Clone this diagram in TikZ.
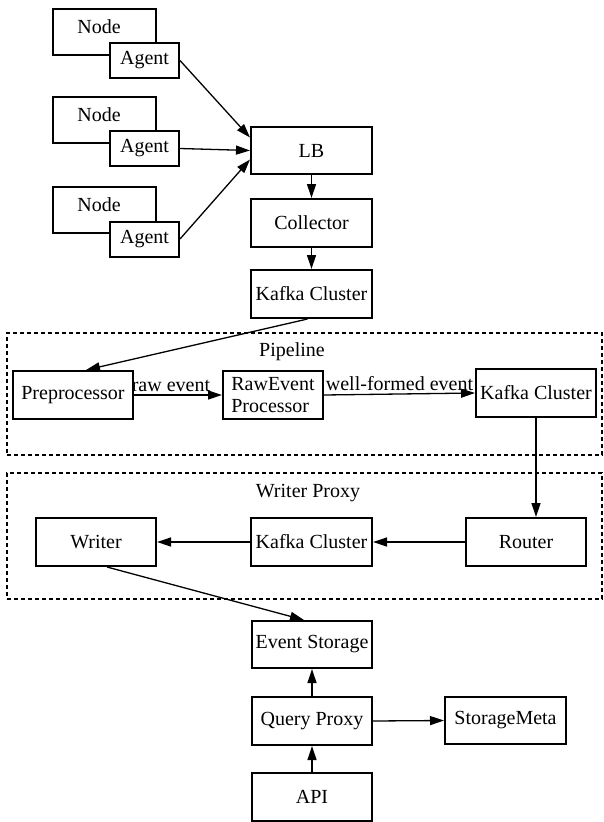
\documentclass[tikz,border=0pt]{standalone}
\usepackage{fontspec}
\setmainfont{Liberation Serif}
\usetikzlibrary{arrows.meta,positioning,calc}
\begin{document}
\begin{tikzpicture}[x=1pt,y=-1pt,
  font=\fontsize{20}{22}\selectfont,
  box/.style={draw,line width=2pt,fill=white,inner sep=0pt,minimum width=120pt,minimum height=48pt},
  group/.style={draw,line width=2pt,dash pattern=on 4pt off 3pt,inner sep=0pt},
  conn/.style={line width=1.3pt,-{Triangle[length=14pt,width=9pt]}},
  lbl/.style={inner sep=0pt}]
\useasboundingbox (0,0) rectangle (603,822);
% groups
\node[group,minimum width=595pt,minimum height=122pt] (pipe) at (304.5,394) {};
\node[lbl] (pipelbl) at (292,352) {Pipeline};
\node[group,minimum width=595pt,minimum height=126pt] (wp) at (304.5,536) {};
\node[lbl] (wplbl) at (308,493) {Writer Proxy};
% nodes and agents
\node[box,minimum width=103pt,minimum height=46pt] (n1) at (104.5,32) {};
\node[lbl] (n1t) at (99,27) {Node};
\node[box,minimum width=69pt,minimum height=35pt] (a1) at (144.5,60.5) {Agent};
\node[box,minimum width=103pt,minimum height=46pt] (n2) at (104.5,120) {};
\node[lbl] (n2t) at (99,115) {Node};
\node[box,minimum width=69pt,minimum height=35pt] (a2) at (144.5,148.5) {Agent};
\node[box,minimum width=103pt,minimum height=46pt] (n3) at (104.5,210) {};
\node[lbl] (n3t) at (99,205) {Node};
\node[box,minimum width=69pt,minimum height=35pt] (a3) at (144.5,239) {Agent};
% main column
\node[box,minimum width=121pt,minimum height=47pt] (lb) at (311.5,150.5) {LB};
\node[box,minimum width=121pt] (col) at (311.5,223) {Collector};
\node[box,minimum width=121pt] (k1) at (311.5,294) {Kafka Cluster};
% pipeline
\node[box] (pre) at (73,395) {Preprocessor};
\node[box,minimum width=100pt,align=left] (raw) at (273,395) {RawEvent\\Processor};
\node[box] (k2) at (536,393) {Kafka Cluster};
% writer proxy
\node[box] (wr) at (96,542) {Writer};
\node[box,minimum width=121pt] (k3) at (311.5,542) {Kafka Cluster};
\node[box] (rt) at (526,542) {Router};
% bottom
\node[box,minimum height=47pt] (es) at (312,644.5) {Event Storage};
\node[box] (qp) at (312,721) {Query Proxy};
\node[box,minimum width=121pt,minimum height=47pt] (sm) at (505.5,720.5) {StorageMeta};
\node[box] (api) at (312,797) {API};
% connectors
\draw[conn] (a1.east) -- ([yshift=13pt]lb.west);
\draw[conn] (a2.east) -- (lb.west);
\draw[conn] (a3.east) -- ([yshift=-9pt]lb.west);
\draw[conn] (lb) -- (col);
\draw[conn] (col) -- (k1);
\draw[conn] ([xshift=-4pt]k1.south) -- ([xshift=13pt]pre.north);
\draw[conn] (pre.east) -- node[lbl,above=3pt,pos=0.42] (rawlbl) {raw event} (raw.west);
\draw[conn] (raw.east) -- node[lbl,above=3pt] (wflbl) {well-formed event} (k2.west);
\draw[conn] (k2.south) -- (k2.south |- rt.north);
\draw[conn] (rt.west) -- (k3.east);
\draw[conn] (k3.west) -- (wr.east);
\draw[conn] ([xshift=11pt]wr.south) -- ([xshift=-8pt]es.north);
\draw[conn] (qp) -- (es);
\draw[conn] (qp.east) -- (sm.west);
\draw[conn] (api) -- (qp);
\end{tikzpicture}
\end{document}
